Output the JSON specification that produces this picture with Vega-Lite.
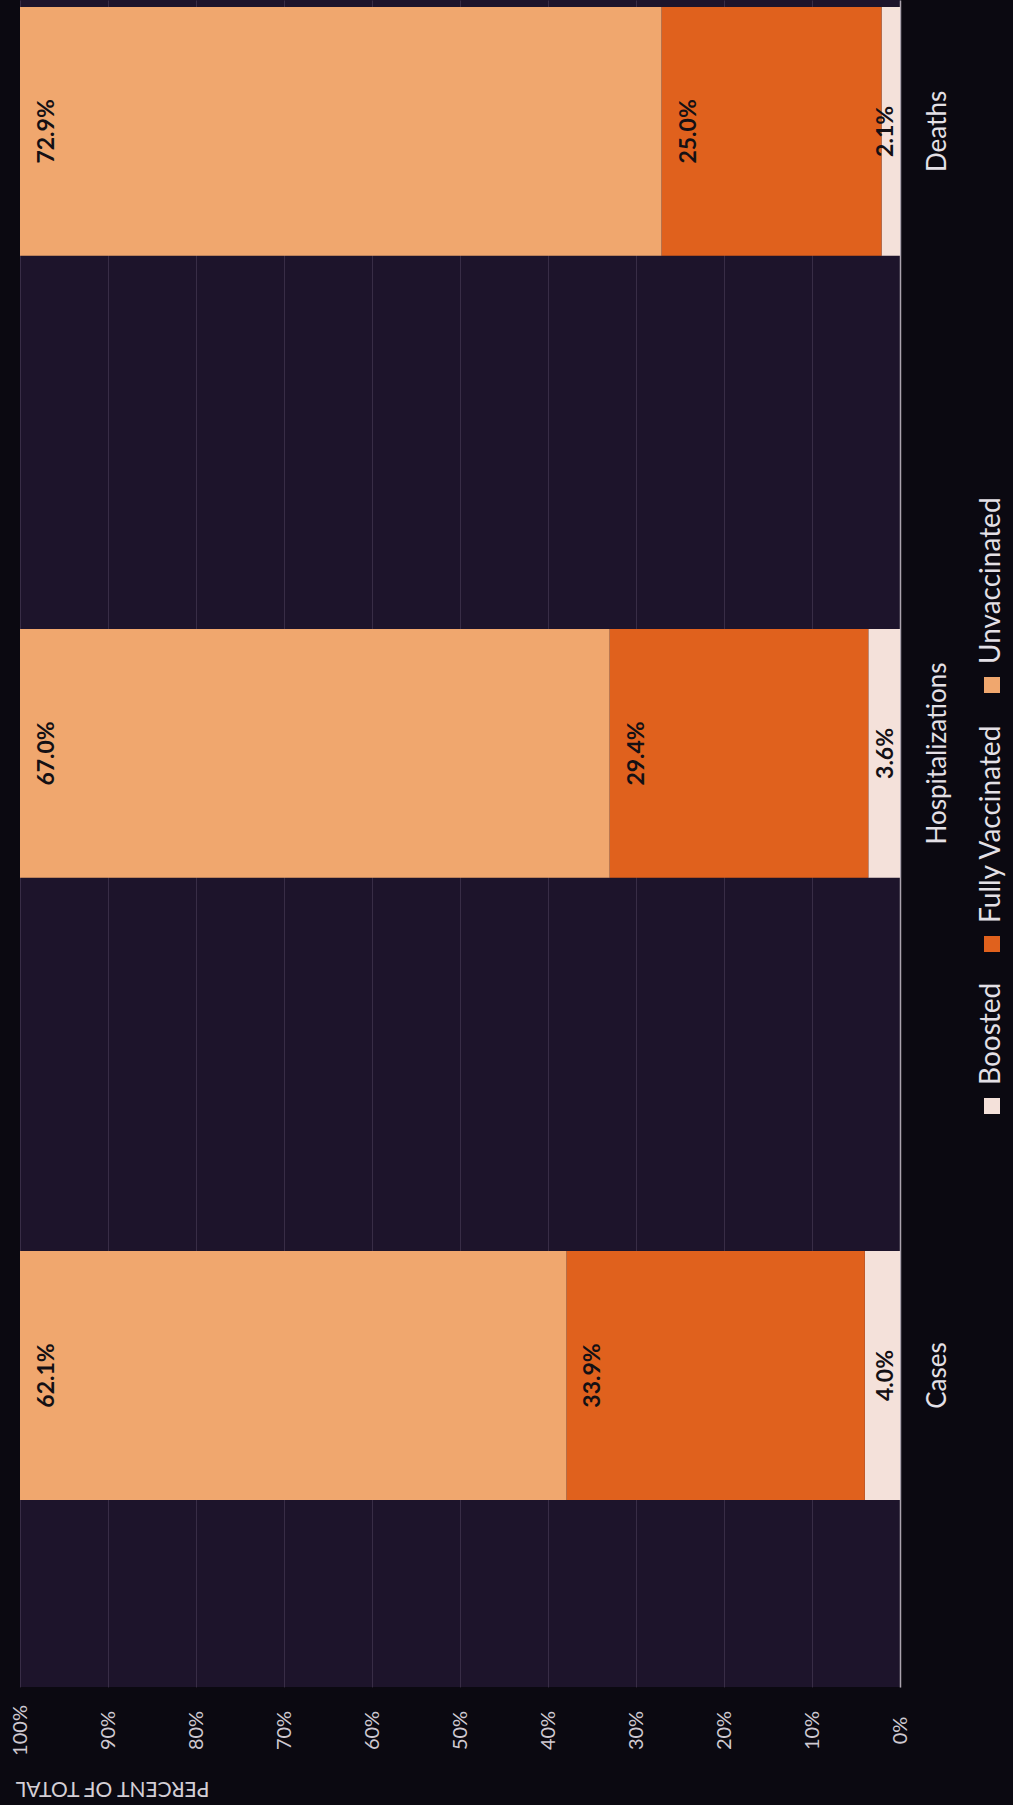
{
  "$schema": "https://vega.github.io/schema/vega-lite/v6.json",
  "width": 880,
  "height": 1687,
  "autosize": {"type": "none"},
  "padding": {"left": 20, "top": 0, "right": 113, "bottom": 118},
  "background": "#0b0911",
  "view": {"fill": "#1d142b", "stroke": null},
  "config": {
    "font": "Lato",
    "style": {
      "guide-label": {
        "angle": 270,
        "dx": {"signal": "indexof(['Unvaccinated', 'Fully Vaccinated', 'Boosted'], datum.value) >= 0 ? 21 : 0"}
      }
    }
  },
  "data": {
    "values": [
      {"category": "Cases", "status": "Boosted", "value": 0.040, "order": 1},
      {"category": "Cases", "status": "Fully Vaccinated", "value": 0.339, "order": 2},
      {"category": "Cases", "status": "Unvaccinated", "value": 0.621, "order": 3},
      {"category": "Hospitalizations", "status": "Boosted", "value": 0.036, "order": 1},
      {"category": "Hospitalizations", "status": "Fully Vaccinated", "value": 0.294, "order": 2},
      {"category": "Hospitalizations", "status": "Unvaccinated", "value": 0.670, "order": 3},
      {"category": "Deaths", "status": "Boosted", "value": 0.021, "order": 1},
      {"category": "Deaths", "status": "Fully Vaccinated", "value": 0.250, "order": 2},
      {"category": "Deaths", "status": "Unvaccinated", "value": 0.729, "order": 3}
    ]
  },
  "transform": [
    {"stack": "value", "groupby": ["category"], "sort": [{"field": "order", "order": "ascending"}], "as": ["v0", "v1"]}
  ],
  "encoding": {
    "y": {
      "field": "category",
      "type": "nominal",
      "sort": ["Deaths", "Hospitalizations", "Cases"],
      "scale": {"paddingInner": 0.6, "paddingOuter": 0.156, "align": 0.036},
      "axis": {
        "orient": "right",
        "title": null,
        "domainColor": "#aaa3ad",
        "domainWidth": 1.5,
        "ticks": false,
        "tickSize": 0,
        "grid": false,
        "labelAngle": 270,
        "labelAlign": "center",
        "labelBaseline": "middle",
        "labelPadding": 37,
        "labelLimit": 400,
        "labelFontSize": 26,
        "labelFont": "Lato",
        "labelColor": "#e4e0e6"
      }
    }
  },
  "layer": [
    {
      "mark": {"type": "bar"},
      "encoding": {
        "x": {
          "field": "v0",
          "type": "quantitative",
          "scale": {"domain": [0, 1], "reverse": true, "nice": false},
          "axis": {
            "title": "PERCENT OF TOTAL",
            "titleAngle": 180,
            "titleX": 92,
            "titleY": 100,
            "titleAlign": "center",
            "titleBaseline": "middle",
            "titleFontSize": 21,
            "titleFontWeight": "normal",
            "titleFont": "Lato",
            "titleColor": "#d4cfd6",
            "format": ".0%",
            "values": [0, 0.1, 0.2, 0.3, 0.4, 0.5, 0.6, 0.7, 0.8, 0.9, 1],
            "labelAngle": 270,
            "labelAlign": "center",
            "labelBaseline": "middle",
            "labelPadding": 43,
            "labelFontSize": 20,
            "labelFont": "Lato",
            "labelColor": "#cfc9d2",
            "labelFlush": false,
            "labelOverlap": false,
            "ticks": false,
            "tickSize": 0,
            "domain": false,
            "grid": true,
            "gridColor": "#4b3d58",
            "gridWidth": 1,
            "gridOpacity": 0.6
          }
        },
        "x2": {"field": "v1"},
        "color": {
          "field": "status",
          "type": "nominal",
          "scale": {
            "domain": ["Unvaccinated", "Fully Vaccinated", "Boosted"],
            "range": ["#f0a76e", "#e0611d", "#f4e1da"]
          },
          "legend": {
            "orient": "none",
            "legendX": 958,
            "legendY": 671,
            "direction": "vertical",
            "title": null,
            "padding": 0,
            "symbolType": "square",
            "symbolSize": 256,
            "symbolStrokeWidth": 0,
            "symbolOpacity": 1,
            "labelFont": "Lato",
            "labelFontSize": 28,
            "labelColor": "#e4e0e6",
            "labelLimit": 400,
            "labelOffset": -14,
            "labelAlign": "left",
            "labelBaseline": "middle",
            "rowPadding": 30
          }
        }
      }
    },
    {
      "transform": [{"filter": "datum.status !== 'Boosted'"}],
      "mark": {"type": "text", "angle": 270, "align": "center", "baseline": "middle", "dy": 27, "fontWeight": "bold", "fontSize": 23, "font": "Lato", "color": "#141014"},
      "encoding": {
        "x": {"field": "v1", "type": "quantitative", "title": "PERCENT OF TOTAL"},
        "text": {"field": "value", "type": "quantitative", "format": ".1%"}
      }
    },
    {
      "transform": [{"filter": "datum.status === 'Boosted'"}],
      "mark": {"type": "text", "angle": 270, "align": "center", "baseline": "middle", "dy": -14, "fontWeight": "bold", "fontSize": 23, "font": "Lato", "color": "#141014"},
      "encoding": {
        "x": {"field": "v0", "type": "quantitative", "title": "PERCENT OF TOTAL"},
        "text": {"field": "value", "type": "quantitative", "format": ".1%"}
      }
    }
  ]
}
